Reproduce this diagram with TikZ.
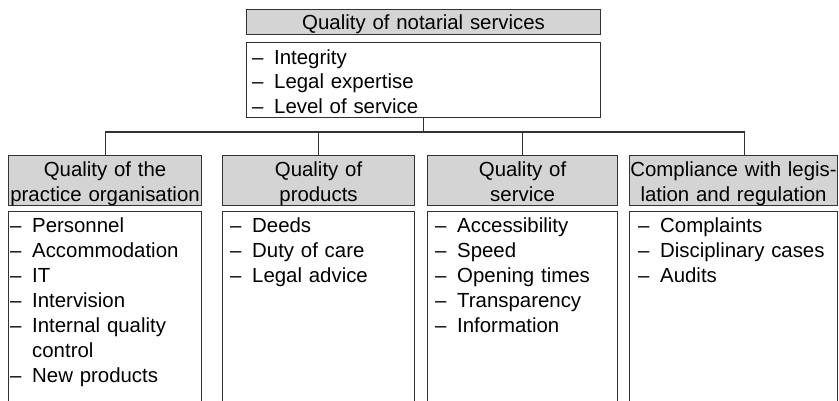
\documentclass[tikz,border=0pt]{standalone}
\usepackage{fontspec}
\setmainfont{Liberation Sans}
\usetikzlibrary{calc}
\definecolor{hdrgray}{RGB}{212,212,212}
\definecolor{linegray}{RGB}{50,50,50}
\newcommand{\dsh}{\makebox[22pt][l]{–}}
\newcommand{\ind}{\hspace*{22pt}}
\begin{document}
\begin{tikzpicture}[x=1pt,y=-1pt,
  box/.style={draw=linegray, line width=1.1pt},
  head/.style={box, fill=hdrgray, inner sep=0pt, anchor=north west, align=center,
    font=\fontsize{20.4}{24.5}\selectfont, text height=21pt, text depth=29pt},
  frame/.style={box, inner sep=0pt, anchor=north west},
  listtext/.style={inner sep=0pt, anchor=base west, align=left, text width=200pt,
    font=\fontsize{20.4}{25}\selectfont},
  conn/.style={draw=linegray, line width=1.1pt}]
\clip (0,0) rectangle (839,401);
% top
\node[head, text width=354pt, text height=20pt, text depth=5pt] (title) at (246,9) {Quality of notarial services};
\node[frame, minimum width=354pt, minimum height=75pt] (c0) at (246,42) {};
\node[listtext, font=\fontsize{20.4}{24.4}\selectfont] (l0) at (252,64.5)
  {\dsh Integrity\\ \dsh Legal expertise\\ \dsh Level of service};
% headers
\node[head, text width=193pt] (h1) at (8,155) {Quality of the\\practice organisation};
\node[head, text width=192pt] (h2) at (222,155) {Quality of\\products};
\node[head, text width=190pt] (h3) at (427,155) {Quality of\\service};
\node[head, text width=208pt] (h4) at (629,155) {Compliance with legis-\\lation and regulation};
% frames
\node[frame, minimum width=193pt, minimum height=230pt] (f1) at (8,211) {};
\node[frame, minimum width=192pt, minimum height=230pt] (f2) at (222,211) {};
\node[frame, minimum width=190pt, minimum height=230pt] (f3) at (427,211) {};
\node[frame, minimum width=208pt, minimum height=230pt] (f4) at (629,211) {};
% lists
\node[listtext] (l1) at (10,232.5)
  {\dsh Personnel\\ \dsh Accommodation\\ \dsh IT\\ \dsh Intervision\\ \dsh Internal quality\\ \ind control\\ \dsh New products};
\node[listtext] (l2) at (230,232.5)
  {\dsh Deeds\\ \dsh Duty of care\\ \dsh Legal advice};
\node[listtext] (l3) at (435,232.5)
  {\dsh Accessibility\\ \dsh Speed\\ \dsh Opening times\\ \dsh Transparency\\ \dsh Information};
\node[listtext] (l4) at (638,232.5)
  {\dsh Complaints\\ \dsh Disciplinary cases\\ \dsh Audits};
% connectors
\coordinate (bus) at (423,132);
\coordinate (a4) at ($(h4.north)+(11,0)$);
\draw[conn] (c0.south) -- (c0.south |- bus);
\draw[conn] (h1.north) |- (a4 |- bus) -- (a4);
\draw[conn] (h2.north) -- (h2.north |- bus);
\draw[conn] (h3.north) -- (h3.north |- bus);
\end{tikzpicture}
\end{document}
